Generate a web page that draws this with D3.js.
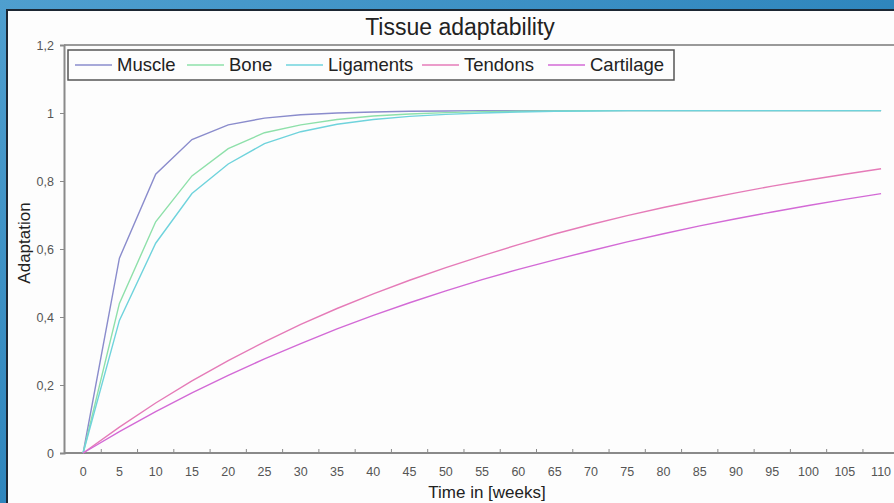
<!DOCTYPE html>
<html>
<head>
<meta charset="utf-8">
<script src="https://cdn.jsdelivr.net/npm/d3@7"></script>
<style>
  body { margin: 0; overflow: hidden; }
  svg { display: block; font-family: "Liberation Sans", Arial, sans-serif; }
</style>
</head>
<body>
<div id="root"></div>
<script>
// data
const weeks = [0, 5, 10, 15, 20, 25, 30, 35, 40, 45, 50, 55, 60, 65, 70, 75, 80, 85, 90, 95, 100, 105, 110];
const muscle = [0, 0.573, 0.82, 0.922, 0.965, 0.985, 0.995, 1, 1.003, 1.005, 1.006, 1.007, 1.007, 1.007, 1.007, 1.007, 1.007, 1.007, 1.007, 1.007, 1.007, 1.007, 1.007];
const bone = [0, 0.44, 0.68, 0.815, 0.895, 0.942, 0.965, 0.981, 0.991, 0.997, 1.001, 1.004, 1.005, 1.006, 1.007, 1.007, 1.007, 1.007, 1.007, 1.007, 1.007, 1.007, 1.007];
const ligaments = [0, 0.39, 0.617, 0.763, 0.85, 0.91, 0.945, 0.967, 0.981, 0.99, 0.996, 1, 1.003, 1.005, 1.006, 1.007, 1.007, 1.007, 1.007, 1.007, 1.007, 1.007, 1.007];
const tendons = [0, 0.076, 0.147, 0.212, 0.272, 0.327, 0.378, 0.425, 0.468, 0.508, 0.545, 0.58, 0.613, 0.644, 0.672, 0.698, 0.722, 0.744, 0.765, 0.785, 0.803, 0.82, 0.836];
const cartilage = [0, 0.063, 0.122, 0.177, 0.228, 0.277, 0.322, 0.365, 0.405, 0.442, 0.477, 0.51, 0.54, 0.568, 0.595, 0.621, 0.645, 0.668, 0.689, 0.709, 0.728, 0.746, 0.763];
const yTicks = [0, 0.2, 0.4, 0.6, 0.8, 1, 1.2];

const series = [
    { name: 'Muscle', values: muscle, color: '#8a8ccc' },
    { name: 'Bone', values: bone, color: '#8ee0aa' },
    { name: 'Ligaments', values: ligaments, color: '#6fd3dc' },
    { name: 'Tendons', values: tendons, color: '#e57bb8' },
    { name: 'Cartilage', values: cartilage, color: '#d36ad6' }
];

const width = 894, height = 503;

const svg = d3.select('#root').append('svg')
    .attr('width', width)
    .attr('height', height);

// blue backdrop
const defs = svg.append('defs');
const grad = defs.append('linearGradient').attr('id', 'bg')
    .attr('x1', 0).attr('y1', 0).attr('x2', 1).attr('y2', 1);
grad.append('stop').attr('offset', 0).attr('stop-color', '#4f9fcf');
grad.append('stop').attr('offset', 0.5).attr('stop-color', '#2f86bd');
grad.append('stop').attr('offset', 1).attr('stop-color', '#1d5f8e');
svg.append('rect').attr('width', width).attr('height', height).attr('fill', 'url(#bg)');

// white panel
svg.append('rect')
    .attr('x', 7).attr('y', 10)
    .attr('width', width).attr('height', height)
    .attr('fill', '#fdfdfd')
    .attr('stroke', '#1c2733')
    .attr('stroke-width', 2);

// scales
const x = d3.scaleBand().domain(weeks).range([65, 65 + 23 * 36.27]);
const cx = d => x(d) + x.bandwidth() / 2;
const y = d3.scaleLinear().domain([0, 1.2]).range([453, 45]);

// plot area top border
svg.append('line')
    .attr('x1', 64).attr('x2', width)
    .attr('y1', y(1.2)).attr('y2', y(1.2))
    .attr('stroke', '#9a9a9a').attr('stroke-width', 2);

// title
svg.append('text')
    .attr('x', 460).attr('y', 35)
    .attr('text-anchor', 'middle')
    .attr('font-size', 23)
    .attr('fill', '#222')
    .text('Tissue adaptability');

// y axis
const yAxis = svg.append('g')
    .attr('transform', 'translate(64,0)')
    .call(d3.axisLeft(y)
        .tickValues(yTicks)
        .tickSize(4)
        .tickPadding(6)
        .tickFormat(d => d3.format('~g')(d).replace('.', ',')));
yAxis.select('.domain').attr('stroke', '#8a8a8a').attr('stroke-width', 2);
yAxis.selectAll('.tick line').attr('stroke', '#8a8a8a');
yAxis.selectAll('.tick text').attr('font-size', 12.5).attr('fill', '#555')
    .attr('font-family', '"Liberation Sans", Arial, sans-serif');

// x axis: labels at category centres, ticks between categories
const xAxis = svg.append('g')
    .attr('transform', 'translate(0,453)')
    .call(d3.axisBottom(x).tickSize(0).tickPadding(14));
xAxis.select('.domain').remove();
xAxis.selectAll('.tick text').attr('font-size', 12.5).attr('fill', '#555')
    .attr('font-family', '"Liberation Sans", Arial, sans-serif');

svg.append('line')
    .attr('x1', 64).attr('x2', width)
    .attr('y1', 453).attr('y2', 453)
    .attr('stroke', '#8a8a8a').attr('stroke-width', 2);

svg.append('g').selectAll('line')
    .data(weeks.slice(1))
    .enter().append('line')
    .attr('x1', d => x(d)).attr('x2', d => x(d))
    .attr('y1', 453).attr('y2', 449)
    .attr('stroke', '#8a8a8a');

// axis titles
svg.append('text')
    .attr('x', 487).attr('y', 498)
    .attr('text-anchor', 'middle')
    .attr('font-size', 17)
    .attr('fill', '#222')
    .text('Time in [weeks]');

svg.append('text')
    .attr('transform', 'translate(30,243) rotate(-90)')
    .attr('text-anchor', 'middle')
    .attr('font-size', 17)
    .attr('fill', '#222')
    .text('Adaptation');

// lines
const line = d3.line()
    .x((d, i) => cx(weeks[i]))
    .y(d => y(d));

svg.append('g').selectAll('path')
    .data(series)
    .enter().append('path')
    .attr('fill', 'none')
    .attr('stroke', d => d.color)
    .attr('stroke-width', 1.4)
    .attr('d', d => line(d.values));

// legend
const legend = svg.append('g');
legend.append('rect')
    .attr('x', 68).attr('y', 50)
    .attr('width', 606).attr('height', 30)
    .attr('fill', '#fdfdfd')
    .attr('stroke', '#555')
    .attr('stroke-width', 1.5);

const legendX = [75, 187, 286, 422, 548];
const item = legend.selectAll('.item')
    .data(series)
    .enter().append('g')
    .attr('class', 'item')
    .attr('transform', (d, i) => 'translate(' + legendX[i] + ',65)');
item.append('line')
    .attr('x1', 0).attr('x2', 37)
    .attr('stroke', d => d.color)
    .attr('stroke-width', 1.6);
item.append('text')
    .attr('x', 42).attr('dy', '0.35em')
    .attr('font-size', 18.5)
    .attr('fill', '#222')
    .text(d => d.name);
</script>
</body>
</html>
